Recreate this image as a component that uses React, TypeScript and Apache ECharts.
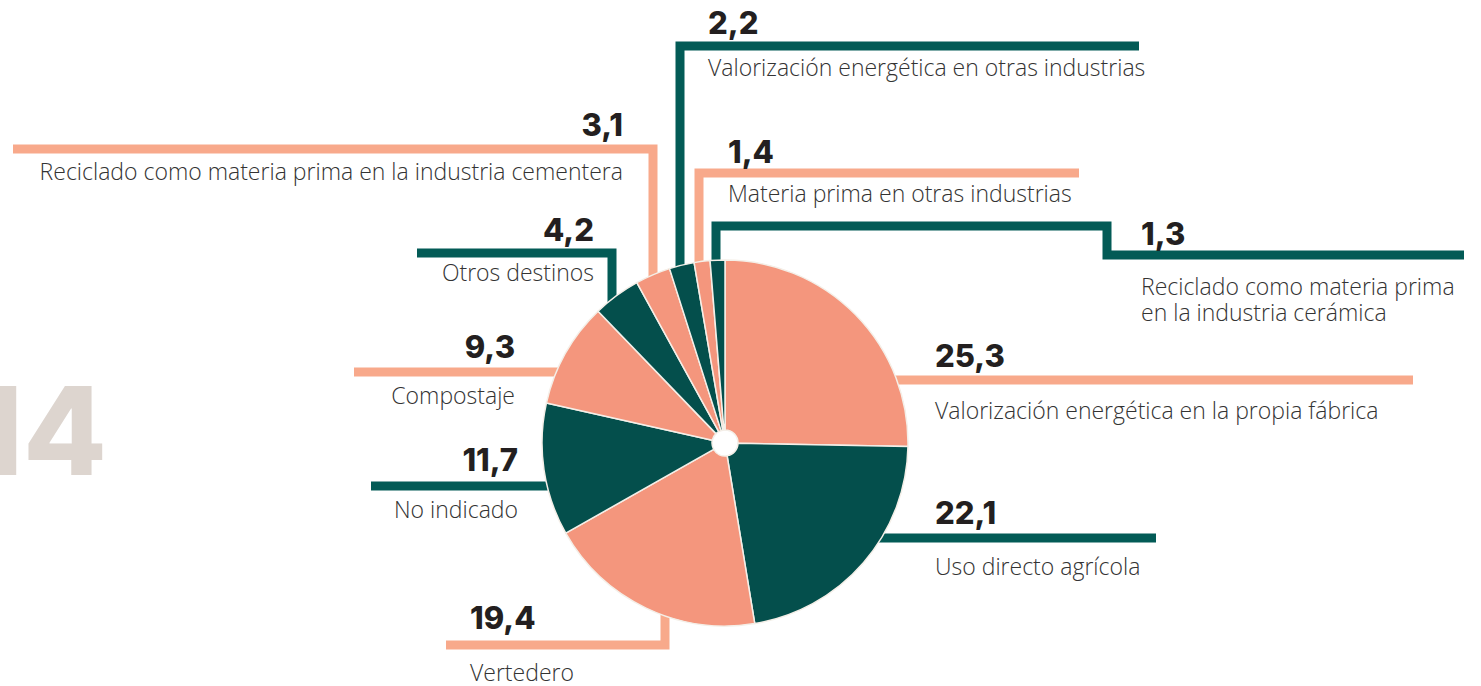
import React, { useEffect, useRef } from "react";
import * as echarts from "echarts";

const categories = [
  "Valorización energética en la propia fábrica",
  "Uso directo agrícola",
  "Vertedero",
  "No indicado",
  "Compostaje",
  "Otros destinos",
  "Reciclado como materia prima en la industria cementera",
  "Valorización energética en otras industrias",
  "Materia prima en otras industrias",
  "Reciclado como materia prima\nen la industria cerámica",
];
const values = [25.3, 22.1, 19.4, 11.7, 9.3, 4.2, 3.1, 2.2, 1.4, 1.3];
const yearLabel = "14";

const SALMON = "#f4967d";
const TEAL = "#044f4c";
const SALMON_LINE = "#f8a98b";
const TEAL_LINE = "#035b56";

// annotation layout (leader lines and label anchors), in pixels
const leaderLayout: { pts: number[][]; x: number; vy: number; ly: number; align: "left" | "right" }[] = [
  { pts: [[850, 380], [1413, 380]], x: 935, vy: 355, ly: 410, align: "left" },
  { pts: [[850, 538], [1156, 538]], x: 935, vy: 512, ly: 566, align: "left" },
  { pts: [[665, 560], [665, 645], [446, 645]], x: 470, vy: 617, ly: 672, align: "left" },
  { pts: [[371, 486], [600, 486]], x: 518, vy: 459, ly: 509, align: "right" },
  { pts: [[354, 372], [600, 372]], x: 515, vy: 346, ly: 395, align: "right" },
  { pts: [[417, 253], [612, 253], [612, 340]], x: 594, vy: 229, ly: 272, align: "right" },
  { pts: [[13, 149], [653, 149], [653, 320]], x: 623, vy: 124, ly: 171, align: "right" },
  { pts: [[680, 320], [680, 46], [1139, 46]], x: 708, vy: 22, ly: 67, align: "left" },
  { pts: [[699, 320], [699, 173], [1079, 173]], x: 728, vy: 151, ly: 193, align: "left" },
  { pts: [[716, 320], [716, 226], [1107, 226], [1107, 255], [1464, 255]], x: 1141, vy: 233, ly: 286, align: "left" },
];
const labelLineGap = 26;

export default function App() {
  const ref = useRef<HTMLDivElement>(null);
  useEffect(() => {
    document.body.style.margin = "0";
    const chart = echarts.init(ref.current!, null, { renderer: "svg" });
    const graphics: any[] = [];
    graphics.push({
      type: "text",
      x: 107,
      y: 430,
      z: 0,
      silent: true,
      style: {
        text: yearLabel,
        font: "800 122px Inter",
        fill: "#ddd5cf",
        textAlign: "right",
        textVerticalAlign: "middle",
      },
    });
    values.forEach((v, i) => {
      const L = leaderLayout[i];
      const lineColor = i % 2 === 0 ? SALMON_LINE : TEAL_LINE;
      graphics.push({
        type: "polyline",
        z: 0,
        silent: true,
        shape: { points: L.pts },
        style: { stroke: lineColor, lineWidth: 9, fill: null, lineJoin: "miter", lineCap: "butt" },
      });
      graphics.push({
        type: "text",
        x: L.x,
        y: L.vy,
        z: 5,
        silent: true,
        style: {
          text: v.toFixed(1).replace(".", ","),
          font: "800 31px Inter",
          fill: "#231f20",
          textAlign: L.align,
          textVerticalAlign: "middle",
        },
      });
      categories[i].split("\n").forEach((line, k) => {
        graphics.push({
          type: "text",
          x: L.x,
          y: L.ly + k * labelLineGap,
          z: 5,
          silent: true,
          style: {
            text: line,
            font: "300 23px 'Open Sans'",
            lineHeight: 24,
            fill: "#333333",
            textAlign: L.align,
            textVerticalAlign: "middle",
          },
        });
      });
    });

    chart.setOption({
      animation: false,
      backgroundColor: "#ffffff",
      graphic: { elements: graphics },
      series: [
        {
          type: "pie",
          z: 3,
          center: [725, 443],
          radius: [13, 183],
          startAngle: 90,
          clockwise: true,
          label: { show: false },
          labelLine: { show: false },
          silent: true,
          itemStyle: { borderColor: "#f4efe8", borderWidth: 1.5 },
          data: values.map((v, i) => ({
            value: v,
            name: categories[i],
            itemStyle: { color: i % 2 === 0 ? SALMON : TEAL },
          })),
        },
      ],
    });
    return () => chart.dispose();
  }, []);
  return <div ref={ref} style={{ width: 1481, height: 686 }} />;
}
